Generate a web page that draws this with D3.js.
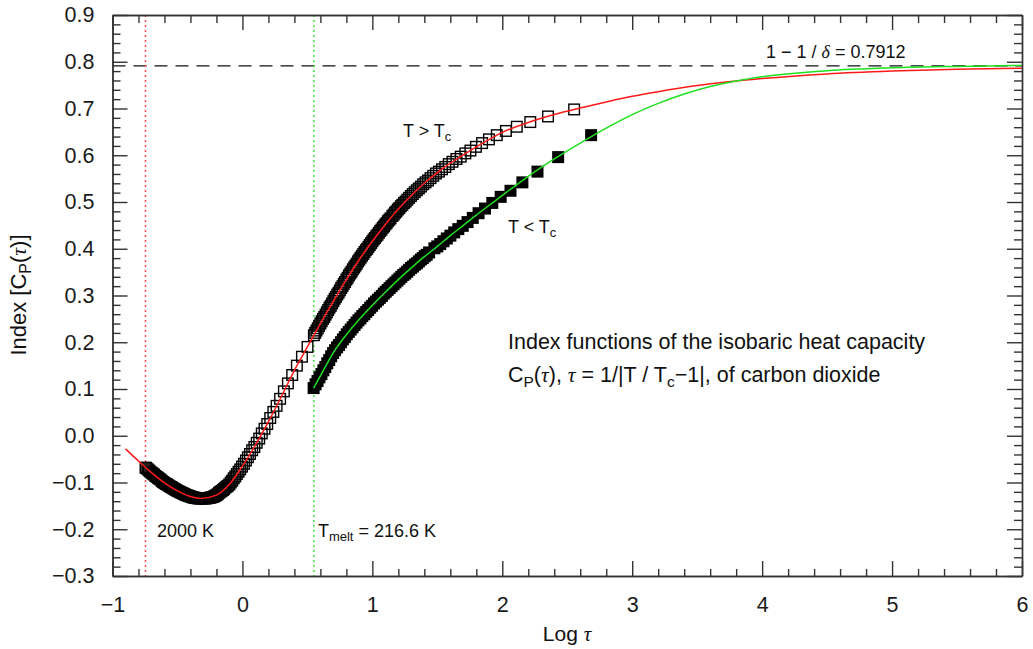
<!DOCTYPE html>
<html>
<head>
<meta charset="utf-8">
<script src="https://cdn.jsdelivr.net/npm/d3@7"></script>
<style>
  html, body { margin: 0; padding: 0; background: #fff; }
  svg { display: block; font-family: "Liberation Sans", Arial, sans-serif; }
  .greek { font-family: "Liberation Serif", "Times New Roman", serif; font-style: italic; }
</style>
</head>
<body>
<div id="chart"></div>
<script>
(function () {

    /* ── data ───────────────────────────────────────────────────── */
    var X_TICKS = [-1, 0, 1, 2, 3, 4, 5, 6];
    var Y_TICKS = [-0.3, -0.2, -0.1, 0.0, 0.1, 0.2, 0.3, 0.4, 0.5, 0.6, 0.7, 0.8, 0.9];

    var DELTA_LIMIT   = 0.7912;   // 1 - 1/delta
    var LOG_TAU_2000K = -0.746;
    var LOG_TAU_MELT  = 0.55;

    // fitted index function, T > Tc (red)
    var RED_FIT_X = [-0.9, -0.8, -0.7, -0.6, -0.5, -0.4, -0.32, -0.2, -0.1, 0, 0.1, 0.2, 0.3, 0.4, 0.5,
                     0.6, 0.7, 0.8, 0.9, 1.0, 1.1, 1.2, 1.3, 1.4, 1.5, 1.6, 1.7, 1.8, 1.9, 2.0, 2.2,
                     2.4, 2.6, 2.8, 3.0, 3.2, 3.5, 4.0, 4.5, 5.0, 5.5, 6.0];
    var RED_FIT_Y = [-0.028, -0.054, -0.079, -0.101, -0.118, -0.130, -0.134, -0.127, -0.104, -0.065,
                     -0.020, 0.030, 0.084, 0.140, 0.190, 0.240, 0.288, 0.334, 0.377, 0.416, 0.452,
                     0.485, 0.514, 0.540, 0.563, 0.583, 0.601, 0.618, 0.634, 0.649, 0.670, 0.687,
                     0.701, 0.714, 0.726, 0.736, 0.749, 0.764, 0.774, 0.780, 0.784, 0.786];

    // fitted index function, T < Tc (green)
    var GREEN_FIT_X = [0.548, 0.6, 0.7, 0.8, 0.9, 1.0, 1.1, 1.2, 1.3, 1.4, 1.5, 1.6, 1.7, 1.8, 1.9, 2.0,
                       2.2, 2.4, 2.6, 2.8, 3.0, 3.2, 3.4, 3.6, 3.8, 4.0, 4.5, 5.0, 5.5, 6.0];
    var GREEN_FIT_Y = [0.102, 0.128, 0.178, 0.216, 0.249, 0.279, 0.307, 0.334, 0.359, 0.383, 0.405,
                       0.428, 0.450, 0.472, 0.493, 0.514, 0.555, 0.592, 0.626, 0.658, 0.687, 0.711,
                       0.731, 0.747, 0.759, 0.768, 0.781, 0.787, 0.790, 0.792];

    // data points T > Tc (open squares) [log tau, index]
    var ABOVE_TC = [
        [-0.746,-0.068],[-0.74,-0.069],[-0.73,-0.0715],[-0.72,-0.074],[-0.71,-0.0765],[-0.70,-0.079],
        [-0.69,-0.081],[-0.68,-0.083],[-0.67,-0.086],[-0.66,-0.088],[-0.65,-0.090],[-0.64,-0.092],
        [-0.63,-0.094],[-0.62,-0.097],[-0.61,-0.099],[-0.60,-0.101],[-0.59,-0.103],[-0.58,-0.104],
        [-0.57,-0.106],[-0.56,-0.108],[-0.55,-0.1095],[-0.54,-0.111],[-0.53,-0.113],[-0.52,-0.1145],
        [-0.51,-0.116],[-0.50,-0.118],[-0.49,-0.119],[-0.48,-0.1205],[-0.47,-0.122],[-0.46,-0.123],
        [-0.45,-0.1245],[-0.44,-0.126],[-0.43,-0.127],[-0.42,-0.128],[-0.41,-0.129],[-0.40,-0.130],
        [-0.39,-0.131],[-0.38,-0.132],[-0.37,-0.1325],[-0.36,-0.133],[-0.35,-0.1335],[-0.34,-0.134],
        [-0.33,-0.134],[-0.32,-0.134],[-0.31,-0.134],[-0.30,-0.134],[-0.29,-0.134],[-0.28,-0.134],
        [-0.27,-0.1335],[-0.26,-0.133],[-0.25,-0.1325],[-0.24,-0.132],[-0.23,-0.131],[-0.22,-0.130],
        [-0.21,-0.1285],[-0.20,-0.127],[-0.19,-0.125],[-0.18,-0.122],[-0.17,-0.120],[-0.16,-0.118],
        [-0.15,-0.116],[-0.142,-0.114],[-0.132,-0.111],[-0.122,-0.109],[-0.112,-0.107],[-0.101,-0.104],
        [-0.090,-0.100],[-0.079,-0.096],[-0.067,-0.091],[-0.055,-0.087],[-0.043,-0.082],[-0.030,-0.077],
        [-0.017,-0.072],[-0.003,-0.066],[0.012,-0.060],[0.027,-0.053],[0.042,-0.046],[0.058,-0.039],
        [0.075,-0.031],[0.092,-0.024],[0.110,-0.015],[0.129,-0.006],[0.149,0.005],[0.170,0.015],
        [0.191,0.025],[0.214,0.038],[0.238,0.051],[0.263,0.064],[0.290,0.079],[0.319,0.095],
        [0.350,0.112],[0.383,0.130],[0.419,0.150],[0.458,0.169],[0.501,0.190],
        [0.55,0.215],[0.56,0.220],[0.57,0.225],[0.58,0.230],[0.59,0.235],[0.60,0.240],[0.61,0.245],
        [0.62,0.250],[0.63,0.254],[0.64,0.259],[0.65,0.264],[0.66,0.269],[0.67,0.274],[0.68,0.278],
        [0.69,0.283],[0.70,0.288],[0.71,0.293],[0.72,0.297],[0.73,0.302],[0.74,0.306],[0.75,0.311],
        [0.76,0.316],[0.77,0.320],[0.78,0.325],[0.79,0.329],[0.80,0.334],[0.81,0.338],[0.82,0.343],
        [0.83,0.347],[0.84,0.351],[0.85,0.356],[0.86,0.360],[0.87,0.364],[0.88,0.368],[0.89,0.373],
        [0.90,0.377],[0.91,0.381],[0.92,0.385],[0.93,0.389],[0.94,0.393],[0.95,0.397],[0.96,0.400],
        [0.97,0.404],[0.98,0.408],[0.99,0.412],[1.00,0.416],[1.01,0.420],[1.02,0.423],[1.03,0.427],
        [1.04,0.430],[1.05,0.434],[1.06,0.438],[1.07,0.441],[1.08,0.445],[1.09,0.448],[1.10,0.452],
        [1.11,0.455],[1.12,0.459],[1.13,0.462],[1.14,0.465],
        [1.1537,0.470],[1.164,0.473],[1.1745,0.477],[1.1853,0.480],[1.1964,0.484],[1.2077,0.487],
        [1.2194,0.491],[1.2314,0.494],[1.2437,0.498],[1.2565,0.501],[1.2695,0.505],[1.283,0.509],
        [1.297,0.513],[1.3113,0.517],[1.3262,0.521],[1.3416,0.525],[1.3575,0.529],[1.3741,0.533],
        [1.3914,0.538],[1.4093,0.542],[1.428,0.546],[1.4476,0.551],[1.4681,0.556],[1.4896,0.561],
        [1.5122,0.565],[1.5361,0.570],[1.5613,0.575],[1.5881,0.581],[1.6167,0.586],[1.6473,0.592],
        [1.6802,0.597],[1.7158,0.604],[1.7546,0.610],[1.7972,0.618],[1.8444,0.626],[1.8974,0.634],
        [1.9578,0.643],[2.028,0.652],[2.1117,0.661],[2.2155,0.671],[2.352,0.683],[2.553,0.698]
    ];

    // data points T < Tc (filled squares) [log tau, index]
    var BELOW_TC = [
        [0.548,0.102],[0.563,0.110],[0.578,0.117],[0.593,0.125],[0.608,0.132],[0.623,0.140],
        [0.638,0.147],[0.653,0.155],[0.668,0.162],[0.683,0.170],[0.698,0.177],[0.713,0.183],
        [0.728,0.189],[0.743,0.194],[0.758,0.200],[0.773,0.206],[0.788,0.211],[0.803,0.217],
        [0.818,0.222],[0.833,0.227],[0.848,0.232],[0.863,0.237],[0.878,0.242],[0.893,0.247],
        [0.908,0.251],[0.923,0.256],[0.938,0.260],[0.953,0.265],[0.968,0.269],[0.983,0.274],
        [0.998,0.278],[1.013,0.283],[1.028,0.287],[1.043,0.291],[1.058,0.295],[1.073,0.299],
        [1.088,0.304],[1.103,0.308],[1.118,0.312],[1.133,0.316],[1.148,0.320],[1.163,0.324],
        [1.178,0.328],[1.193,0.332],[1.208,0.336],[1.223,0.340],[1.238,0.344],[1.253,0.347],
        [1.268,0.351],[1.283,0.355],[1.298,0.359],[1.313,0.362],[1.328,0.366],[1.343,0.369],
        [1.358,0.373],[1.373,0.377],[1.388,0.380],[1.403,0.384],[1.418,0.387],[1.4366,0.392],
        [1.4775,0.401],[1.4995,0.405],[1.5226,0.410],[1.5471,0.416],[1.573,0.422],[1.6006,0.428],
        [1.63,0.435],[1.6616,0.442],[1.6956,0.449],[1.7326,0.457],[1.773,0.466],[1.8175,0.476],
        [1.8671,0.486],[1.9232,0.498],[1.9876,0.511],[2.0631,0.524],[2.1547,0.542],[2.2709,0.565],
        [2.430,0.596],[2.6838,0.643]
    ];

    /* ── layout ──────────────────────────────────────────────────── */
    var W = 1033, H = 649;
    var margin = { top: 15, right: 11, bottom: 73, left: 112.5 };
    var iW = W - margin.left - margin.right;
    var iH = H - margin.top - margin.bottom;
    var AXIS = "#333";

    var root = d3.select("#chart").append("svg")
        .attr("width", W).attr("height", H);

    var g = root.append("g")
        .attr("transform", "translate(" + margin.left + "," + margin.top + ")");

    var x = d3.scaleLinear().domain([-1, 6]).range([0, iW]);
    var y = d3.scaleLinear().domain([-0.3, 0.9]).range([iH, 0]);

    g.append("defs").append("clipPath").attr("id", "clip-plot")
        .append("rect").attr("width", iW).attr("height", iH);

    /* ── reference lines ─────────────────────────────────────────── */
    g.append("line")
        .attr("x1", 0).attr("x2", iW)
        .attr("y1", y(DELTA_LIMIT)).attr("y2", y(DELTA_LIMIT))
        .attr("stroke", "#111").attr("stroke-width", 1.2)
        .attr("stroke-dasharray", "13 8");

    g.append("line")
        .attr("x1", x(LOG_TAU_2000K)).attr("x2", x(LOG_TAU_2000K))
        .attr("y1", 0).attr("y2", iH)
        .attr("stroke", "#ff4a4a").attr("stroke-width", 1.5)
        .attr("stroke-dasharray", "2 3");

    g.append("line")
        .attr("x1", x(LOG_TAU_MELT)).attr("x2", x(LOG_TAU_MELT))
        .attr("y1", 0).attr("y2", iH)
        .attr("stroke", "#22e622").attr("stroke-width", 1.3)
        .attr("stroke-dasharray", "2 3");

    /* ── data squares ────────────────────────────────────────────── */
    var OPEN = 10.6, FILLED = 12;

    g.append("g").attr("class", "above-tc")
        .selectAll("rect").data(ABOVE_TC).enter().append("rect")
        .attr("x", function (d) { return x(d[0]) - OPEN / 2; })
        .attr("y", function (d) { return y(d[1]) - OPEN / 2; })
        .attr("width", OPEN).attr("height", OPEN)
        .attr("fill", "none").attr("stroke", "#000").attr("stroke-width", 1.4);

    g.append("g").attr("class", "below-tc")
        .selectAll("rect").data(BELOW_TC).enter().append("rect")
        .attr("x", function (d) { return x(d[0]) - FILLED / 2; })
        .attr("y", function (d) { return y(d[1]) - FILLED / 2; })
        .attr("width", FILLED).attr("height", FILLED)
        .attr("fill", "#000");

    /* ── fitted curves ───────────────────────────────────────────── */
    var line = d3.line()
        .x(function (d) { return x(d[0]); })
        .y(function (d) { return y(d[1]); })
        .curve(d3.curveMonotoneX);

    g.append("path")
        .datum(d3.zip(RED_FIT_X, RED_FIT_Y))
        .attr("clip-path", "url(#clip-plot)")
        .attr("d", line)
        .attr("fill", "none").attr("stroke", "#ff1a1a").attr("stroke-width", 1.5);

    g.append("path")
        .datum(d3.zip(GREEN_FIT_X, GREEN_FIT_Y))
        .attr("clip-path", "url(#clip-plot)")
        .attr("d", line)
        .attr("fill", "none").attr("stroke", "#1ee01e").attr("stroke-width", 1.5);

    /* ── axes (ticks inward on all four sides) ───────────────────── */
    var xMinor = d3.range(-1, 6.001, 0.2).filter(function (v) {
        return Math.abs(v - Math.round(v)) > 1e-6;
    });
    var yMinor = d3.range(-0.3, 0.9001, 0.02).filter(function (v) {
        return Math.abs(v * 10 - Math.round(v * 10)) > 1e-6;
    });
    var blank = function () { return ""; };

    function styleAxis(sel) {
        sel.selectAll("path, line").attr("stroke", AXIS).attr("stroke-width", 1.4);
        sel.attr("font-family", null).attr("font-size", 21.5);
        sel.selectAll("text").attr("fill", "#1a1a1a");
    }

    g.append("g").attr("transform", "translate(0," + iH + ")")
        .call(d3.axisBottom(x).tickValues(X_TICKS).tickSizeInner(-15).tickSizeOuter(0)
            .tickPadding(21).tickFormat(d3.format("d")))
        .call(styleAxis);
    g.append("g").attr("transform", "translate(0," + iH + ")")
        .call(d3.axisBottom(x).tickValues(xMinor).tickSizeInner(-7).tickSizeOuter(0).tickFormat(blank))
        .call(styleAxis);
    g.append("g")
        .call(d3.axisTop(x).tickValues(X_TICKS).tickSizeInner(-15).tickSizeOuter(0).tickFormat(blank))
        .call(styleAxis);
    g.append("g")
        .call(d3.axisTop(x).tickValues(xMinor).tickSizeInner(-8).tickSizeOuter(0).tickFormat(blank))
        .call(styleAxis);

    g.append("g")
        .call(d3.axisLeft(y).tickValues(Y_TICKS).tickSizeInner(-15).tickSizeOuter(0)
            .tickPadding(18).tickFormat(d3.format(".1f")))
        .call(styleAxis);
    g.append("g")
        .call(d3.axisLeft(y).tickValues(yMinor).tickSizeInner(-8).tickSizeOuter(0).tickFormat(blank))
        .call(styleAxis);
    g.append("g").attr("transform", "translate(" + iW + ",0)")
        .call(d3.axisRight(y).tickValues(Y_TICKS).tickSizeInner(-15).tickSizeOuter(0).tickFormat(blank))
        .call(styleAxis);
    g.append("g").attr("transform", "translate(" + iW + ",0)")
        .call(d3.axisRight(y).tickValues(yMinor).tickSizeInner(-8).tickSizeOuter(0).tickFormat(blank))
        .call(styleAxis);

    /* ── text with sub-scripts and greek letters ─────────────────── */
    function richText(parent, px, py, size, parts, anchor, transform) {
        var t = parent.append("text")
            .attr("x", px).attr("y", py)
            .attr("font-size", size)
            .attr("fill", "#111");
        if (anchor) t.attr("text-anchor", anchor);
        if (transform) t.attr("transform", transform).attr("x", 0).attr("y", 0);
        var shift = 0;
        parts.forEach(function (p) {
            var s = t.append("tspan").text(p.t);
            var want = p.sub ? size * 0.22 : 0;
            if (want !== shift) { s.attr("dy", want - shift); shift = want; }
            if (p.sub) s.attr("font-size", size * 0.72);
            if (p.greek) s.attr("class", "greek");
        });
        return t;
    }

    richText(root, 403, 137, 18, [{ t: "T > T" }, { t: "c", sub: true }]);
    richText(root, 508, 233, 18, [{ t: "T < T" }, { t: "c", sub: true }]);

    richText(root, 508, 349, 21.5, [{ t: "Index functions of the isobaric heat capacity" }]);
    richText(root, 508, 382, 21.5, [
        { t: "C" }, { t: "P", sub: true }, { t: "(" }, { t: "\u03C4", greek: true }, { t: "), " },
        { t: "\u03C4", greek: true }, { t: " = 1/|T / T" }, { t: "c", sub: true },
        { t: "\u22121|, of carbon dioxide" }
    ]);

    richText(root, 766, 58, 18, [
        { t: "1 \u2212 1 / " }, { t: "\u03B4", greek: true }, { t: " = 0.7912" }
    ]);

    richText(root, 157, 537, 18, [{ t: "2000 K" }]);
    richText(root, 318, 537, 18, [{ t: "T" }, { t: "melt", sub: true }, { t: " = 216.6 K" }]);

    richText(root, 567, 641, 21, [{ t: "Log " }, { t: "\u03C4", greek: true }], "middle");
    richText(root, 0, 0, 22, [
        { t: "Index [C" }, { t: "P", sub: true }, { t: "(" }, { t: "\u03C4", greek: true }, { t: ")]" }
    ], "middle", "translate(26,295) rotate(-90)");

}());
</script>
</body>
</html>
